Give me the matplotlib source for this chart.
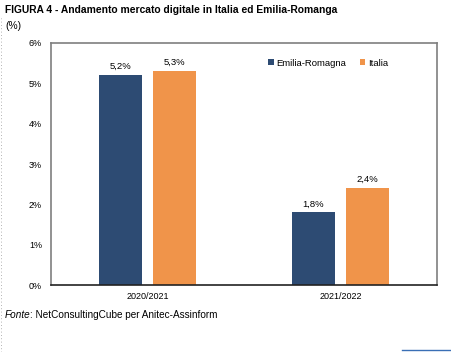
import numpy as np
import matplotlib.pyplot as plt
from matplotlib.lines import Line2D
from matplotlib.ticker import FuncFormatter

plt.rcParams['font.family'] = ['Liberation Sans', 'DejaVu Sans']

periods = ["2020/2021", "2021/2022"]
emilia = [5.2, 1.8]
italia = [5.3, 2.4]
series_names = ["Emilia-Romagna", "Italia"]
colors = ["#2D4B73", "#F0944A"]

fig = plt.figure(figsize=(4.52, 3.52), dpi=100)
ax = fig.add_axes([0.113, 0.19, 0.854, 0.688])

x = np.arange(len(periods))
w = 0.22
for vals, off, c, name in [(emilia, -0.14, colors[0], series_names[0]),
                           (italia, 0.14, colors[1], series_names[1])]:
    bars = ax.bar(x + off, vals, w, color=c, label=name)
    for b, v in zip(bars, vals):
        ax.text(b.get_x() + b.get_width() / 2, v + 0.1, f"{v:.1f}%".replace(".", ","),
                ha="center", va="bottom", fontsize=6.8)

ax.set_xlim(-0.5, 1.5)
ax.set_ylim(0, 6)
ax.set_xticks(x)
ax.set_xticklabels(periods, fontsize=6.5)
ax.set_yticks(range(7))
ax.yaxis.set_major_formatter(FuncFormatter(lambda v, p: f"{v:.0f}%"))
ax.tick_params(axis="y", labelsize=6.5, length=0, pad=6.5)
ax.tick_params(axis="x", length=0, pad=5)
for s in ax.spines.values():
    s.set_color("#7f7f7f")
    s.set_linewidth(1.2)
ax.spines["bottom"].set_color("#222222")

ax.legend(loc="upper left", bbox_to_anchor=(0.54, 0.97), ncol=2, frameon=False,
          fontsize=6.8, handlelength=0.6, handleheight=0.6, handletextpad=0.3,
          columnspacing=1.4)

fig.text(0.011, 0.972, "FIGURA 4 - Andamento mercato digitale in Italia ed Emilia-Romanga",
         fontsize=7.4, fontweight="bold", va="center")
fig.text(0.011, 0.925, "(%)", fontsize=7.4, va="center")
fig.text(0.011, 0.106, "Fonte", fontsize=7.2, style="italic", va="center")
fig.text(0.067, 0.106, ": NetConsultingCube per Anitec-Assinform", fontsize=7.2, va="center")

fig.add_artist(Line2D([0.002, 0.002], [0.0, 0.95], color="#999999", lw=0.6,
                      linestyle=(0, (1, 3))))
fig.add_artist(Line2D([0.89, 1.0], [0.006, 0.006], color="#3a6fb5", lw=1))

fig.savefig("out.png", dpi=100)
